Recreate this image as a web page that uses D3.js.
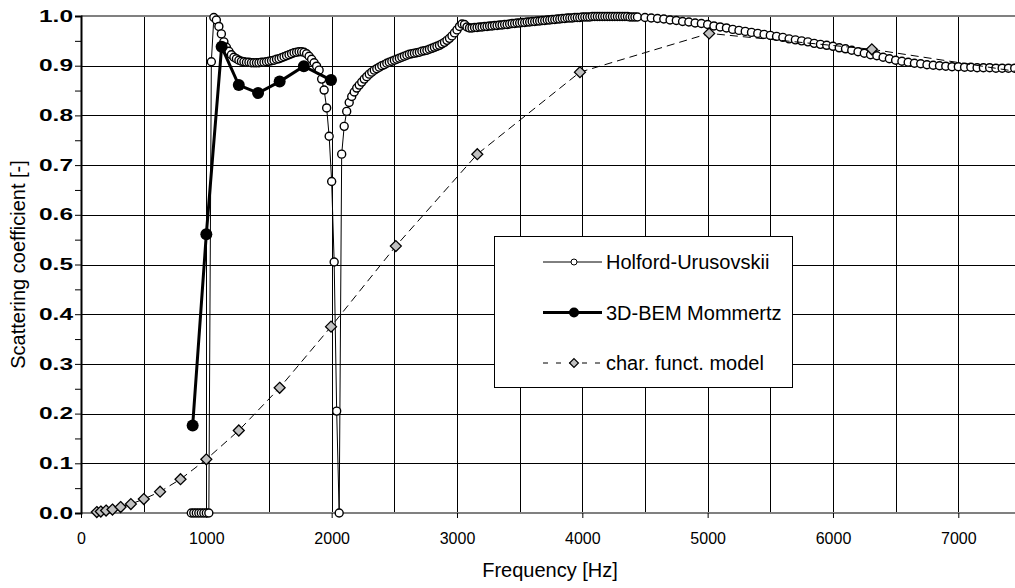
<!DOCTYPE html>
<html>
<head>
<meta charset="utf-8">
<script src="https://cdn.jsdelivr.net/npm/d3@7"></script>
<style>
  html, body { margin: 0; padding: 0; background: #fff; }
  svg { display: block; font-family: "Liberation Sans", Arial, sans-serif; }
</style>
</head>
<body>
<svg id="chart" width="1015" height="588"></svg>
<script>
// Holford-Urusovskii, dense part: 880..4440 Hz every 20 Hz
const huFreqA = d3.range(880, 4441, 20);
const huValsA = [
  0, 0, 0, 0, 0, 0, 0, 0, 0.908, 0.997,
  0.992, 0.979, 0.964, 0.948, 0.937, 0.929, 0.922, 0.917, 0.914, 0.911,
  0.909, 0.908, 0.907, 0.907, 0.906, 0.906, 0.906, 0.906, 0.907, 0.907,
  0.908, 0.909, 0.910, 0.911, 0.913, 0.914, 0.916, 0.918, 0.920, 0.922,
  0.924, 0.926, 0.927, 0.928, 0.928, 0.927, 0.924, 0.919, 0.913, 0.906,
  0.899, 0.891, 0.873, 0.851, 0.815, 0.758, 0.667, 0.505, 0.205, 0,
  0.722, 0.778, 0.808, 0.826, 0.838, 0.847, 0.855, 0.861, 0.867, 0.873,
  0.878, 0.883, 0.887, 0.891, 0.894, 0.897, 0.900, 0.902, 0.905, 0.907,
  0.909, 0.911, 0.913, 0.915, 0.917, 0.919, 0.921, 0.923, 0.924, 0.925,
  0.926, 0.927, 0.929, 0.930, 0.931, 0.933, 0.935, 0.937, 0.939, 0.941,
  0.944, 0.947, 0.951, 0.955, 0.960, 0.966, 0.972, 0.979, 0.984, 0.983,
  0.978, 0.976, 0.976, 0.977, 0.977, 0.978, 0.978, 0.979, 0.979, 0.980,
  0.980, 0.981, 0.981, 0.982, 0.982, 0.983, 0.983, 0.984, 0.985, 0.985,
  0.986, 0.986, 0.987, 0.987, 0.988, 0.988, 0.989, 0.989, 0.990, 0.990,
  0.991, 0.991, 0.992, 0.992, 0.993, 0.993, 0.994, 0.994, 0.995, 0.995,
  0.996, 0.996, 0.996, 0.997, 0.997, 0.997, 0.998, 0.998, 0.998, 0.998,
  0.999, 0.999, 0.999, 0.999, 0.999, 0.999, 0.999, 0.999, 0.999, 0.999,
  0.999, 0.999, 0.999, 0.999, 0.999, 0.998, 0.998, 0.998, 0.998
];
// Holford-Urusovskii, sparse part: 4500..7450 Hz every 50 Hz
const huFreqB = d3.range(4500, 7451, 50);
const huValsB = [
  0.997, 0.996, 0.995, 0.994, 0.992, 0.991, 0.989, 0.988, 0.986, 0.985,
  0.983, 0.980, 0.978, 0.976, 0.973, 0.971, 0.969, 0.967, 0.965, 0.963,
  0.961, 0.959, 0.957, 0.954, 0.952, 0.950, 0.948, 0.945, 0.943, 0.941,
  0.939, 0.936, 0.934, 0.931, 0.928, 0.925, 0.922, 0.920, 0.917, 0.914,
  0.911, 0.909, 0.907, 0.905, 0.904, 0.902, 0.901, 0.900, 0.899, 0.898,
  0.898, 0.897, 0.897, 0.896, 0.896, 0.896, 0.895, 0.895, 0.895, 0.895
];

// 3D-BEM Mommertz (1/6 octave)
const bemFreq = [891, 1000, 1122, 1259, 1413, 1585, 1778, 1995];
const bemVals = [0.176, 0.561, 0.938, 0.861, 0.845, 0.868, 0.899, 0.871];

// characteristic function model (1/3 octave)
const cfFreq = [126, 158, 200, 251, 316, 398, 501, 631, 794, 1000, 1259, 1585,
  1995, 2512, 3162, 3981, 5012, 6310, 7943];
const cfVals = [0.002, 0.003, 0.005, 0.007, 0.012, 0.018, 0.028, 0.043, 0.068, 0.108,
  0.166, 0.252, 0.375, 0.537, 0.722, 0.887, 0.965, 0.933, 0.87];

const xTicks = [0, 1000, 2000, 3000, 4000, 5000, 6000, 7000];
const xGrid = d3.range(500, 7501, 500);
const yTicks = [0, 0.1, 0.2, 0.3, 0.4, 0.5, 0.6, 0.7, 0.8, 0.9, 1.0];
const yMinor = [0.05, 0.15, 0.25, 0.35, 0.45, 0.55, 0.65, 0.75, 0.85, 0.95];

const legendNames = ['Holford-Urusovskii', '3D-BEM Mommertz', 'char. funct. model'];

(function () {
  const svg = d3.select('#chart');
  const L = 81, T = 16, B = 513, R = 1015;

  const x = d3.scaleLinear().domain([0, 7500]).range([L, L + 7500 * 0.12533]);
  const y = d3.scaleLinear().domain([0, 1]).range([B, T]);

  const huData = huFreqA.map((f, i) => ({ f, v: huValsA[i] }))
    .concat(huFreqB.map((f, i) => ({ f, v: huValsB[i] })));
  const bemData = bemFreq.map((f, i) => ({ f, v: bemVals[i] }));
  const cfData = cfFreq.map((f, i) => ({ f, v: cfVals[i] }));

  // grid
  svg.append('g')
    .attr('transform', `translate(0,${B})`)
    .call(d3.axisBottom(x).tickValues(xGrid).tickSize(-(B - T)).tickFormat(''))
    .call(g => g.select('.domain').remove())
    .call(g => g.selectAll('line').attr('stroke', '#000').attr('stroke-width', 1)
      .attr('shape-rendering', 'crispEdges'));
  svg.append('g')
    .attr('transform', `translate(${L},0)`)
    .call(d3.axisLeft(y).tickValues(yTicks.slice(1, -1)).tickSize(-(R - L)).tickFormat(''))
    .call(g => g.select('.domain').remove())
    .call(g => g.selectAll('line').attr('stroke', '#000').attr('stroke-width', 1)
      .attr('shape-rendering', 'crispEdges'));

  // plot frame: top and bottom gray
  svg.append('line').attr('x1', L).attr('x2', R).attr('y1', T).attr('y2', T)
    .attr('stroke', '#808080').attr('stroke-width', 2);
  svg.append('line').attr('x1', L).attr('x2', R).attr('y1', B).attr('y2', B)
    .attr('stroke', '#808080').attr('stroke-width', 2);

  // y axis
  const yAxis = svg.append('g')
    .attr('transform', `translate(${L},0)`)
    .call(d3.axisLeft(y).tickValues(yTicks).tickSize(6).tickPadding(2).tickFormat(d3.format('.1f')));
  yAxis.select('.domain').attr('stroke', '#000').attr('stroke-width', 2);
  yAxis.selectAll('line').attr('stroke', '#000').attr('stroke-width', 1);
  yAxis.selectAll('text')
    .attr('font-size', 16).attr('font-weight', 'bold').attr('fill', '#000')
    .attr('textLength', 34).attr('lengthAdjust', 'spacingAndGlyphs');
  svg.append('g')
    .attr('transform', `translate(${L},0)`)
    .call(d3.axisLeft(y).tickValues(yMinor).tickSize(6).tickFormat(''))
    .call(g => g.select('.domain').remove())
    .call(g => g.selectAll('line').attr('stroke', '#000').attr('stroke-width', 1));

  // x axis labels
  const xAxis = svg.append('g')
    .attr('transform', `translate(0,${B})`)
    .call(d3.axisBottom(x).tickValues(xTicks).tickSize(5).tickPadding(15).tickFormat(d3.format('d')));
  xAxis.select('.domain').remove();
  xAxis.selectAll('line').attr('stroke', '#000');
  xAxis.selectAll('text').attr('font-size', 16).attr('fill', '#000');

  // axis titles
  svg.append('text')
    .attr('x', (L + 1015) / 2 + 2).attr('y', 577)
    .attr('text-anchor', 'middle').attr('font-size', 20)
    .text('Frequency [Hz]');
  svg.append('text')
    .attr('transform', `translate(25,${(T + B) / 2}) rotate(-90)`)
    .attr('text-anchor', 'middle').attr('font-size', 20)
    .text('Scattering coefficient [-]');

  const line = d3.line().x(d => x(d.f)).y(d => y(d.v));

  // Holford-Urusovskii
  svg.append('path').datum(huData).attr('d', line)
    .attr('fill', 'none').attr('stroke', '#000').attr('stroke-width', 1);
  svg.append('g').selectAll('circle').data(huData).join('circle')
    .attr('cx', d => x(d.f)).attr('cy', d => y(d.v)).attr('r', 4)
    .attr('fill', '#fff').attr('stroke', '#000').attr('stroke-width', 1.4);

  // 3D-BEM Mommertz
  svg.append('path').datum(bemData).attr('d', line)
    .attr('fill', 'none').attr('stroke', '#000').attr('stroke-width', 3);
  svg.append('g').selectAll('circle').data(bemData).join('circle')
    .attr('cx', d => x(d.f)).attr('cy', d => y(d.v)).attr('r', 6)
    .attr('fill', '#000');

  // char. funct. model
  const diamond = d3.symbol().type(d3.symbolDiamond2).size(76);
  svg.append('path').datum(cfData).attr('d', line)
    .attr('fill', 'none').attr('stroke', '#000').attr('stroke-width', 1)
    .attr('stroke-dasharray', '8,5');
  svg.append('g').selectAll('path').data(cfData.filter(d => d.f < 7500)).join('path')
    .attr('d', diamond)
    .attr('transform', d => `translate(${x(d.f)},${y(d.v)})`)
    .attr('fill', '#c0c0c0').attr('stroke', '#000').attr('stroke-width', 1.3);

  // legend
  const lg = svg.append('g');
  lg.append('rect').attr('x', 494.5).attr('y', 236.5).attr('width', 298).attr('height', 151)
    .attr('fill', '#fff').attr('stroke', '#000').attr('stroke-width', 1);
  const rows = [262, 312.5, 363];
  const lx1 = 543, lx2 = 602, lm = 574;
  legendNames.forEach((name, i) => {
    const ry = rows[i];
    const l = lg.append('line').attr('x1', lx1).attr('x2', lx2).attr('y1', ry).attr('y2', ry)
      .attr('stroke', '#000');
    if (i === 0) {
      l.attr('stroke-width', 1);
      lg.append('circle').attr('cx', lm).attr('cy', ry).attr('r', 3)
        .attr('fill', '#fff').attr('stroke', '#000').attr('stroke-width', 1);
    } else if (i === 1) {
      l.attr('stroke-width', 3);
      lg.append('circle').attr('cx', lm).attr('cy', ry).attr('r', 5).attr('fill', '#000');
    } else {
      l.attr('stroke-width', 1).attr('stroke-dasharray', '5,8');
      lg.append('path').attr('d', d3.symbol().type(d3.symbolDiamond2).size(50))
        .attr('transform', `translate(${lm},${ry})`)
        .attr('fill', '#c0c0c0').attr('stroke', '#000').attr('stroke-width', 1.2);
    }
    lg.append('text').attr('x', 606).attr('y', ry).attr('dy', '0.35em')
      .attr('font-size', 20).text(name);
  });
})();
</script>
</body>
</html>
